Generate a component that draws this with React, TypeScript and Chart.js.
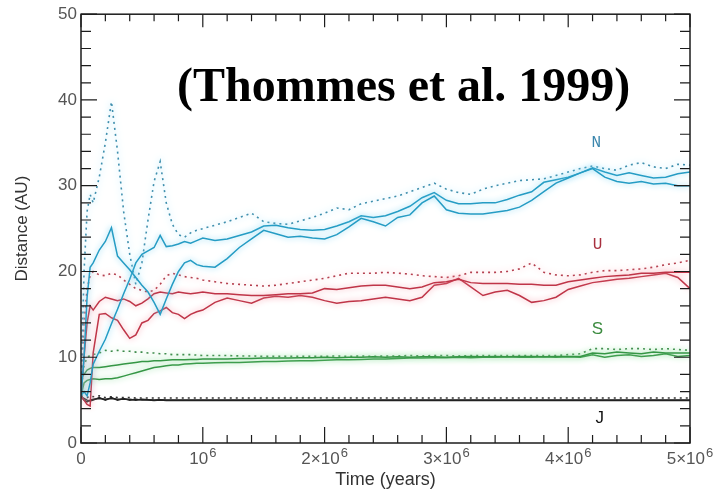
import React, { useEffect, useRef } from "react";
import { Chart, registerables } from "chart.js";

Chart.register(...registerables);

// Simulation time grid (years): dense through the first million years, then every 1e5 yr
const TIME_YR = [
  0, 25000, 50000, 75000, 100000, 150000, 200000, 250000, 300000, 350000, 400000,
  450000, 500000, 550000, 600000, 650000, 700000, 750000, 800000, 850000, 900000,
  950000, 1000000, 1100000, 1200000, 1300000, 1400000, 1500000, 1600000, 1700000,
  1800000, 1900000, 2000000, 2100000, 2200000, 2300000, 2400000, 2500000, 2600000,
  2700000, 2800000, 2900000, 3000000, 3100000, 3200000, 3300000, 3400000, 3500000,
  3600000, 3700000, 3800000, 3900000, 4000000, 4100000, 4200000, 4300000, 4400000,
  4500000, 4600000, 4700000, 4800000, 4900000, 5000000,
];

// Heliocentric distance (AU) for each run
const NEPTUNE_A = [
  5.5, 10.0, 17.0, 20.5, 21.0, 22.5, 23.5, 25.1, 21.8, 21.0, 20.2, 19.3, 18.4, 17.6, 16.4, 15.0,
  16.8, 18.5, 20.0, 21.0, 21.3, 20.8, 20.6,
  20.5, 21.5, 22.8, 23.8, 24.8, 24.4, 24.0, 24.1, 23.9, 23.8, 24.3, 25.2, 26.2, 25.8, 25.3, 26.3,
  26.6, 28.0, 28.8, 27.2, 26.8, 26.7, 26.7, 26.9, 27.1, 27.5, 28.3, 29.3, 30.3, 30.9, 31.5, 32.0,
  31.0, 30.5, 30.3, 30.5, 30.2, 30.3, 30.0, 30.0,
];
const NEPTUNE_B = [
  5.5, 6.0, 5.5, 7.0, 9.2, 10.7, 12.1, 13.9, 15.6, 17.4, 19.1, 21.0, 22.0, 22.4, 22.8, 24.2,
  22.9, 23.0, 23.2, 23.5, 23.3, 23.6, 23.9,
  23.6, 23.8, 24.2, 24.6, 25.3, 25.4, 25.1, 24.9, 24.8, 24.9, 25.3, 25.8, 26.5, 26.3, 26.5, 27.0,
  27.6, 28.6, 29.2, 28.3, 27.9, 27.9, 28.0, 28.0, 28.4, 28.9, 29.3, 30.4, 30.7, 31.0, 31.5, 32.1,
  31.6, 31.2, 31.5, 31.2, 30.9, 31.0, 31.4, 31.6,
];
const NEPTUNE_C = [
  6.0, 20.0, 27.0, 29.0, 28.0, 31.0, 35.0, 39.8, 34.0, 27.0, 22.0, 18.5, 21.0, 26.0, 30.5, 32.8,
  28.0, 25.5, 24.3, 24.0, 24.5, 24.8, 25.0,
  25.4, 25.8, 26.3, 26.8, 25.8, 25.6, 25.5, 25.9, 26.3, 26.8, 27.4, 27.2, 27.9, 28.2, 28.5, 28.8,
  29.3, 29.8, 30.3, 29.6, 29.2, 29.0, 29.6, 30.0, 30.3, 30.6, 30.7, 30.8, 31.2, 31.6, 32.0, 32.3,
  32.0, 31.8, 32.4, 32.7, 32.2, 32.0, 32.5, 32.4,
];
const URANUS_A = [
  5.5, 10.0, 14.0, 16.0, 15.5, 16.5, 17.0, 16.8, 16.6, 16.8, 16.5, 16.0, 16.3, 16.8, 17.4, 17.6,
  17.5, 17.4, 17.6, 17.5, 17.4, 17.5, 17.6,
  17.4, 17.4, 17.3, 17.2, 17.2, 17.3, 17.4, 17.4, 17.5, 18.0, 17.9, 18.1, 18.3, 18.4, 18.4, 18.2,
  18.0, 18.2, 18.7, 18.8, 19.1, 18.7, 18.6, 18.6, 18.6, 18.5, 18.5, 18.4, 18.4, 18.8, 19.0, 19.2,
  19.4, 19.5, 19.6, 19.8, 19.8, 19.9, 19.9, 19.9,
];
const URANUS_B = [
  5.5, 5.0, 4.5, 4.3, 10.5, 15.0, 15.1, 14.6, 14.3, 13.2, 12.2, 12.6, 14.0, 14.3, 15.1, 15.4,
  15.8, 15.2, 15.0, 14.5, 15.0, 15.3, 15.5,
  16.4, 16.9, 16.6, 16.3, 16.9, 17.1, 17.0, 17.2, 17.0, 16.6, 16.3, 16.5, 16.6, 16.8, 17.0, 16.8,
  16.6, 17.0, 18.4, 18.6, 19.2, 18.2, 17.2, 17.6, 17.8, 17.2, 16.4, 16.6, 17.0, 17.9, 18.3, 18.7,
  18.9, 19.1, 19.2, 19.4, 19.6, 19.8, 19.3, 18.0,
];
const URANUS_C = [
  6.0, 14.0, 18.0, 19.5, 20.0, 19.6, 19.5, 19.8, 19.6, 19.0, 18.5, 18.0, 17.8, 17.6, 17.8, 18.5,
  19.5, 19.8, 19.6, 19.4, 19.3, 19.2, 19.0,
  18.8, 18.6, 18.5, 18.4, 18.3, 18.4, 18.6, 18.8, 19.0, 19.2, 19.5, 19.8, 19.8, 19.8, 19.9, 19.8,
  19.7, 19.5, 19.4, 19.3, 19.5, 19.9, 19.9, 19.9, 20.0, 20.3, 21.0, 19.9, 19.6, 19.5, 19.6, 19.9,
  20.1, 20.1, 20.2, 20.3, 20.5, 20.8, 21.0, 21.3,
];
const SATURN_A = [
  7.5, 8.0, 8.5, 8.7, 8.8, 8.8, 8.9, 9.0, 9.1, 9.2, 9.3, 9.4, 9.5, 9.5, 9.6, 9.6,
  9.65, 9.7, 9.7, 9.7, 9.75, 9.75, 9.8,
  9.8, 9.8, 9.85, 9.85, 9.9, 9.9, 9.9, 9.95, 9.95, 10.0, 9.95, 10.0, 10.0, 10.05, 10.0, 10.05,
  10.0, 10.05, 10.05, 10.0, 10.05, 10.1, 10.05, 10.1, 10.05, 10.1, 10.1, 10.05, 10.1, 10.1, 10.1, 10.5,
  10.4, 10.6, 10.5, 10.4, 10.6, 10.5, 10.5, 10.5,
];
const SATURN_B = [
  5.5, 7.0, 7.3, 7.4, 7.5, 7.4, 7.5, 7.5, 7.6, 7.8, 8.0, 8.2, 8.4, 8.6, 8.8, 8.9,
  9.0, 9.1, 9.1, 9.2, 9.25, 9.3, 9.3,
  9.35, 9.4, 9.4, 9.45, 9.5, 9.5, 9.55, 9.6, 9.6, 9.65, 9.7, 9.7, 9.75, 9.8, 9.8, 9.85,
  9.9, 9.9, 9.95, 9.95, 10.0, 9.95, 10.0, 10.0, 10.05, 10.0, 10.0, 10.05, 10.0, 10.05, 10.0, 10.3,
  10.0, 10.2, 10.3, 10.1, 10.2, 10.4, 10.1, 10.2,
];
const SATURN_C = [
  6.0, 9.0, 10.0, 10.2, 10.3, 10.5, 10.8, 10.7, 10.8, 10.7, 10.7, 10.6, 10.6, 10.5, 10.5, 10.4,
  10.4, 10.3, 10.3, 10.3, 10.3, 10.25, 10.2,
  10.2, 10.2, 10.15, 10.15, 10.1, 10.1, 10.1, 10.1, 10.1, 10.1, 10.15, 10.1, 10.15, 10.1, 10.15, 10.15,
  10.2, 10.15, 10.2, 10.2, 10.15, 10.2, 10.2, 10.2, 10.2, 10.2, 10.2, 10.2, 10.2, 10.3, 10.4, 11.0,
  11.0, 10.9, 11.0, 11.0, 10.9, 11.0, 10.9, 10.8,
];
const JUPITER_A = [
  5.4, 5.0, 4.8, 5.0, 5.1, 5.2, 5.1, 5.2, 5.1, 5.1, 5.1, 5.0, 5.1, 5.05, 5.0, 5.05,
  5.0, 5.0, 5.0, 5.0, 5.0, 5.0, 5.0,
  5.0, 5.0, 5.0, 5.0, 5.0, 5.0, 5.0, 5.0, 5.0, 5.0, 5.0, 5.0, 5.0, 5.0, 5.0, 5.0,
  5.0, 5.0, 5.0, 5.0, 5.0, 5.0, 5.0, 5.0, 5.0, 5.0, 5.0, 5.0, 5.0, 5.0, 5.0, 5.0,
  5.0, 5.0, 5.0, 5.0, 5.0, 5.0, 5.0, 5.0,
];
const JUPITER_B = [
  5.4, 5.2, 5.0, 4.9, 5.0, 5.3, 5.0, 5.3, 5.0, 5.2, 5.0, 5.1, 5.0, 5.0, 4.95, 5.0,
  4.95, 4.95, 4.95, 4.95, 4.95, 4.95, 4.95,
  4.95, 4.95, 4.95, 4.95, 4.95, 4.95, 4.95, 4.95, 4.95, 4.95, 4.95, 4.95, 4.95, 4.95, 4.95, 4.95,
  4.95, 4.95, 4.95, 4.95, 4.95, 4.95, 4.95, 4.95, 4.95, 4.95, 4.95, 4.95, 4.95, 4.95, 4.95, 4.95,
  4.95, 4.95, 4.95, 4.95, 4.95, 4.95, 4.95, 4.95,
];
const JUPITER_C = [
  5.5, 5.4, 5.3, 5.5, 5.4, 5.5, 5.3, 5.4, 5.3, 5.3, 5.3, 5.25, 5.25, 5.25, 5.25, 5.25,
  5.25, 5.25, 5.25, 5.25, 5.25, 5.25, 5.25,
  5.25, 5.25, 5.25, 5.25, 5.25, 5.25, 5.25, 5.25, 5.25, 5.25, 5.25, 5.25, 5.25, 5.25, 5.25, 5.25,
  5.25, 5.25, 5.25, 5.25, 5.25, 5.25, 5.25, 5.25, 5.25, 5.25, 5.25, 5.25, 5.25, 5.25, 5.25, 5.25,
  5.25, 5.25, 5.25, 5.25, 5.25, 5.25, 5.25, 5.25,
];

// x tick labels: mantissa text plus a raised exponent
const X_TICKS = [0, 1e6, 2e6, 3e6, 4e6, 5e6];
const X_TICK_BASE = ["0", "10", "2\u00d710", "3\u00d710", "4\u00d710", "5\u00d710"];
const X_TICK_EXP = ["", "6", "6", "6", "6", "6"];
const Y_TICKS = [0, 10, 20, 30, 40, 50];

// Planet tags, anchored in data coordinates (time, distance)
const PLANET_TAGS = ["N", "U", "S", "J"];
const TAG_TIME = [4.23e6, 4.24e6, 4.24e6, 4.26e6];
const TAG_DIST = [35.0, 23.1, 13.3, 2.9];
const TAG_COLORS = ["#3b86ad", "#a8303f", "#3a8a3e", "#111111"];

const CITATION = "(Thommes et al. 1999)";
const CITATION_TIME = 7.88e5;
const CITATION_DIST = 39.9;

const SANS = "'Liberation Sans', Arial, Helvetica, sans-serif";

const PLANETS = [
  { runs: [NEPTUNE_A, NEPTUNE_B, NEPTUNE_C], color: "#259cc4", dotColor: "#3f8fae", halo: "rgba(120,210,240,1)" },
  { runs: [URANUS_A, URANUS_B, URANUS_C], color: "#bf3548", dotColor: "#b5404f", halo: "rgba(245,155,168,1)" },
  { runs: [SATURN_A, SATURN_B, SATURN_C], color: "#359645", dotColor: "#3d8a4a", halo: "rgba(140,220,155,1)" },
  { runs: [JUPITER_A, JUPITER_B, JUPITER_C], color: "#222222", dotColor: "#333333", halo: "rgba(0,0,0,0)" },
];

function points(values: number[]) {
  return TIME_YR.map((t, i) => ({ x: t, y: values[i] }));
}

// Soft halo behind each trace
const haloPlugin = {
  id: "halo",
  beforeDatasetDraw(chart: any, args: any) {
    const ds = chart.data.datasets[args.index];
    chart.ctx.save();
    chart.ctx.shadowColor = ds.haloColor;
    chart.ctx.shadowBlur = 6;
  },
  afterDatasetDraw(chart: any) {
    chart.ctx.restore();
  },
};

// Box frame with inward-pointing ticks on all four sides, x tick labels and text annotations
const framePlugin = {
  id: "frame",
  afterDraw(chart: any) {
    const { ctx, chartArea: a, scales } = chart;
    const xs = scales.x;
    const ys = scales.y;
    ctx.save();
    ctx.strokeStyle = "#1c1c1c";
    ctx.lineWidth = 1.2;
    ctx.beginPath();
    for (let v = 0; v <= 5e6; v += 2e5) {
      const px = xs.getPixelForValue(v);
      const major = v % 1e6 === 0;
      const lb = major ? 16 : 8;
      const lt = major ? 13 : 7;
      ctx.moveTo(px, a.bottom);
      ctx.lineTo(px, a.bottom - lb);
      ctx.moveTo(px, a.top);
      ctx.lineTo(px, a.top + lt);
    }
    for (let v = 0; v <= 50; v += 2) {
      const py = ys.getPixelForValue(v);
      const major = v % 10 === 0;
      const l = major ? 16 : 10;
      ctx.moveTo(a.left, py);
      ctx.lineTo(a.left + l, py);
      ctx.moveTo(a.right, py);
      ctx.lineTo(a.right - l, py);
    }
    ctx.stroke();
    ctx.lineWidth = 1.5;
    ctx.strokeRect(a.left, a.top, a.right - a.left, a.bottom - a.top);

    // x tick labels with superscript exponent
    const baseFont = `17px ${SANS}`;
    const expFont = `13px ${SANS}`;
    ctx.fillStyle = "#555";
    ctx.textAlign = "left";
    ctx.textBaseline = "alphabetic";
    X_TICKS.forEach((v, i) => {
      ctx.font = baseFont;
      const wb = ctx.measureText(X_TICK_BASE[i]).width;
      ctx.font = expFont;
      const we = X_TICK_EXP[i] ? ctx.measureText(X_TICK_EXP[i]).width + 1 : 0;
      const x0 = xs.getPixelForValue(v) - (wb + we) / 2;
      const base = a.bottom + 21;
      ctx.font = baseFont;
      ctx.fillText(X_TICK_BASE[i], x0, base);
      if (X_TICK_EXP[i]) {
        ctx.font = expFont;
        ctx.fillText(X_TICK_EXP[i], x0 + wb + 1, base - 7);
      }
    });

    ctx.textBaseline = "middle";
    ctx.textAlign = "center";
    PLANET_TAGS.forEach((tag, i) => {
      ctx.fillStyle = TAG_COLORS[i];
      ctx.font = i < 2 ? "16px 'Liberation Mono', 'DejaVu Sans Mono', monospace" : `17px ${SANS}`;
      ctx.fillText(tag, xs.getPixelForValue(TAG_TIME[i]), ys.getPixelForValue(TAG_DIST[i]));
    });

    ctx.fillStyle = "#000";
    ctx.textAlign = "left";
    ctx.textBaseline = "alphabetic";
    ctx.font = "bold 48px 'Liberation Serif', 'Times New Roman', serif";
    ctx.fillText(CITATION, xs.getPixelForValue(CITATION_TIME), ys.getPixelForValue(CITATION_DIST));
    ctx.restore();
  },
};

export default function App() {
  const canvasRef = useRef<HTMLCanvasElement | null>(null);

  useEffect(() => {
    const canvas = canvasRef.current;
    if (!canvas) return;

    const datasets: any[] = [];
    PLANETS.forEach((p) => {
      p.runs.forEach((run, k) => {
        const dotted = k === 2;
        datasets.push({
          data: points(run),
          borderColor: dotted ? p.dotColor : p.color,
          borderWidth: dotted ? 1.6 : 1.5,
          borderDash: dotted ? [2, 4] : [],
          haloColor: p.halo,
          pointRadius: 0,
          tension: 0,
          fill: false,
        });
      });
    });

    const chart = new Chart(canvas, {
      type: "line",
      data: { datasets },
      plugins: [haloPlugin, framePlugin],
      options: {
        animation: false,
        responsive: true,
        maintainAspectRatio: false,
        devicePixelRatio: 1,
        layout: { padding: { left: 0, right: 30, top: 13, bottom: 0 } },
        plugins: { legend: { display: false }, tooltip: { enabled: false } },
        scales: {
          x: {
            type: "linear",
            min: 0,
            max: 5e6,
            grid: { display: false, drawTicks: false },
            border: { display: false },
            afterBuildTicks: (s: any) => {
              s.ticks = X_TICKS.map((v) => ({ value: v }));
            },
            afterFit: (s: any) => {
              s.height = 54;
            },
            ticks: { display: false },
            title: {
              display: true,
              text: "Time (years)",
              color: "#333",
              font: { family: SANS, size: 18 },
              padding: { top: 0, bottom: 6 },
            },
          },
          y: {
            type: "linear",
            min: 0,
            max: 50,
            grid: { display: false, drawTicks: false },
            border: { display: false },
            afterBuildTicks: (s: any) => {
              s.ticks = Y_TICKS.map((v) => ({ value: v }));
            },
            afterFit: (s: any) => {
              s.width = 81;
            },
            ticks: {
              padding: 4,
              color: "#555",
              font: { family: SANS, size: 17 },
              callback: (v: any) => String(v),
            },
            title: {
              display: true,
              text: "Distance (AU)",
              color: "#333",
              font: { family: SANS, size: 17 },
              padding: { top: 12, bottom: 0 },
            },
          },
        },
      } as any,
    });

    return () => chart.destroy();
  }, []);

  return (
    <div style={{ position: "fixed", left: 0, top: 0, width: 720, height: 497, background: "#fff" }}>
      <canvas ref={canvasRef} />
    </div>
  );
}
